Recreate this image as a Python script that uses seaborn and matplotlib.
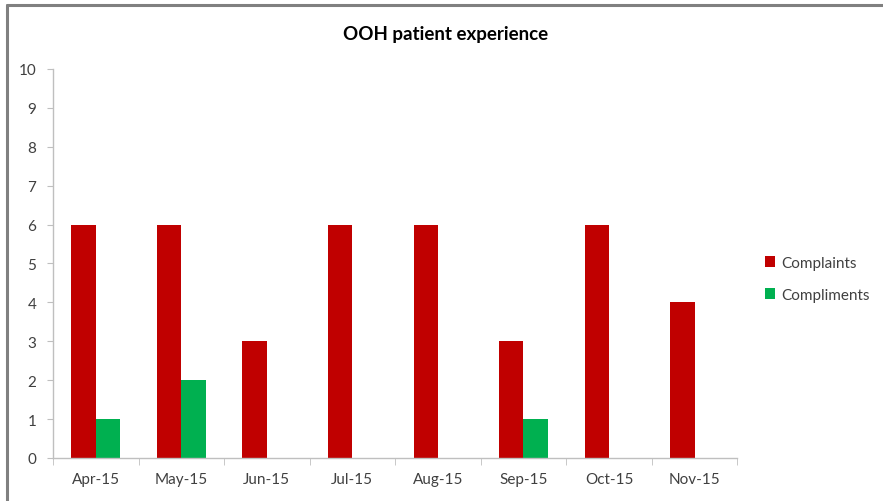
import matplotlib
matplotlib.use("Agg")
import matplotlib.pyplot as plt
import seaborn as sns
import pandas as pd
from matplotlib.lines import Line2D

months = ["Apr-15", "May-15", "Jun-15", "Jul-15", "Aug-15", "Sep-15", "Oct-15", "Nov-15"]
complaints = [6, 6, 3, 6, 6, 3, 6, 4]
compliments = [1, 2, 0, 0, 0, 1, 0, 0]
series_names = ["Complaints", "Compliments"]
colors = ["#C00000", "#00B050"]

df = pd.DataFrame({
    "Month": months * 2,
    "Value": complaints + compliments,
    "Series": [series_names[0]] * len(months) + [series_names[1]] * len(months),
})

sns.set_style("white")
plt.rcParams["font.family"] = ["Lato", "DejaVu Sans"]

fig = plt.figure(figsize=(8.83, 5.02), dpi=100)
ax = fig.add_axes([0.060, 0.0857, 0.775, 0.775])

sns.barplot(data=df, x="Month", y="Value", hue="Series", palette=colors,
            width=0.57, ax=ax, saturation=1, order=months, hue_order=series_names,
            linewidth=0)

ax.set_ylim(0, 10)
ax.set_xlim(-0.5, len(months) - 0.5)
ax.set_yticks(range(0, 11))
ax.set_xlabel("")
ax.set_ylabel("")

grey = "#BFBFBF"
for s in ["top", "right"]:
    ax.spines[s].set_visible(False)
for s in ["left", "bottom"]:
    ax.spines[s].set_color(grey)
    ax.spines[s].set_linewidth(1.0)

ax.tick_params(axis="y", which="major", direction="out", length=4, color=grey,
               labelsize=11, labelcolor="#404040", left=True, pad=8)
ax.set_xticks([i - 0.5 for i in range(len(months) + 1)], minor=True)
ax.tick_params(axis="x", which="minor", direction="out", length=5, color=grey, bottom=True)
ax.tick_params(axis="x", which="major", length=0, labelsize=11, labelcolor="#404040", pad=10)

fig.text(0.505, 1 - 35 / 502, "OOH patient experience", fontsize=13.5, fontweight="bold",
         color="#000000", ha="center", va="center")

leg = ax.legend(loc="center left", bbox_to_anchor=(1.02, 0.46), frameon=False,
                fontsize=11, handlelength=0.7, handleheight=0.7, handletextpad=0.4,
                labelspacing=1.2)
for t in leg.get_texts():
    t.set_color("#404040")

fig.add_artist(Line2D([6.5 / 883, 1.0], [1 - 6 / 502, 1 - 6 / 502], transform=fig.transFigure,
                      color="#808080", linewidth=2.2))
fig.add_artist(Line2D([7 / 883, 7 / 883], [0.0, 1 - 6 / 502], transform=fig.transFigure,
                      color="#808080", linewidth=2.2))

fig.savefig("out.png", dpi=100)
